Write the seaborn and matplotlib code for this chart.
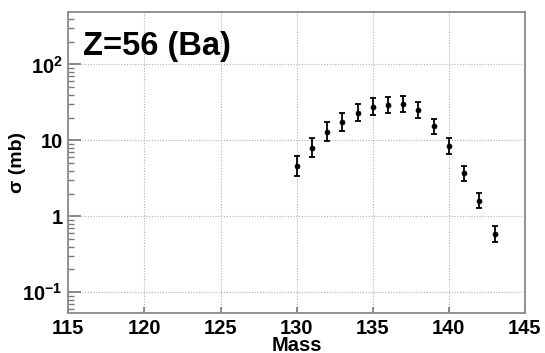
import matplotlib
matplotlib.use('Agg')
import matplotlib.pyplot as plt
import seaborn as sns
import numpy as np
import pandas as pd
from matplotlib.ticker import FixedLocator, FixedFormatter, NullFormatter, NullLocator

# ---- data ----
mass = [130, 131, 132, 133, 134, 135, 136, 137, 138, 139, 140, 141, 142, 143]
sigma = [4.6, 8.0, 13.1, 17.3, 23.2, 27.9, 29.3, 29.9, 25.4, 15.4, 8.4, 3.7, 1.61, 0.59]
sigma_low = [3.44, 6.0, 9.9, 13.2, 17.9, 21.7, 22.8, 23.5, 20.0, 12.2, 6.6, 2.93, 1.27, 0.459]
sigma_high = [6.18, 10.8, 17.3, 22.8, 30.2, 35.8, 37.7, 38.1, 32.2, 19.4, 10.6, 4.67, 2.05, 0.755]
xticks = [115, 120, 125, 130, 135, 140, 145]
yticks = [0.1, 1, 10, 100]
ytick_labels = [r'$\mathbf{10^{-1}}$', '1', '10', r'$\mathbf{10^{2}}$']
title = 'Z=56 (Ba)'

sns.set_theme(style='white')
plt.rcParams['font.family'] = ['Liberation Sans', 'DejaVu Sans']
plt.rcParams['font.weight'] = 'bold'
plt.rcParams['mathtext.fontset'] = 'custom'
plt.rcParams['mathtext.bf'] = 'Liberation Sans:bold'
plt.rcParams['mathtext.rm'] = 'Liberation Sans:bold'
plt.rcParams['axes.unicode_minus'] = False
plt.rcParams['text.color'] = 'black'
plt.rcParams['axes.labelcolor'] = 'black'
plt.rcParams['xtick.color'] = 'black'
plt.rcParams['ytick.color'] = 'black'

df = pd.DataFrame({'mass': mass, 'sigma': sigma})
err_lo = np.array(sigma) - np.array(sigma_low)
err_hi = np.array(sigma_high) - np.array(sigma)

fig = plt.figure(figsize=(5.45, 3.53), dpi=100)
ax = fig.add_axes([0.1253, 0.1125, 0.8380, 0.8527])

ax.set_yscale('log')
ax.set_xlim(115, 145)
ax.set_ylim(0.053, 486)

ax.errorbar(mass, sigma, yerr=[err_lo, err_hi], fmt='none', ecolor='black',
            elinewidth=1.3, capsize=2.2, capthick=1.3, zorder=3)
sns.scatterplot(data=df, x='mass', y='sigma', color='black', s=13,
                edgecolor='black', linewidth=0.5, ax=ax, zorder=4, legend=False)

ax.xaxis.set_major_locator(FixedLocator(xticks))
ax.xaxis.set_minor_locator(NullLocator())
ax.yaxis.set_major_locator(FixedLocator(yticks))
ax.yaxis.set_major_formatter(FixedFormatter(ytick_labels))
minor = [m * 10.0 ** e for e in range(-2, 3) for m in range(2, 10)]
ax.yaxis.set_minor_locator(FixedLocator(minor))
ax.yaxis.set_minor_formatter(NullFormatter())

ax.grid(True, which='major', linestyle=(0, (1, 1.5)), color='#b0b0b0', linewidth=0.8)
ax.set_axisbelow(True)

for s in ax.spines.values():
    s.set_color('#8a8a8a')
    s.set_linewidth(1.3)

ax.tick_params(axis='x', which='major', direction='in', length=4, width=1.2,
               color='#777777', labelcolor='black', labelsize=14.5, pad=4,
               bottom=True, top=False)
ax.tick_params(axis='y', which='major', direction='in', length=9, width=1.2,
               color='#777777', labelcolor='black', labelsize=14.5, pad=4,
               left=True, right=False)
ax.tick_params(axis='y', which='minor', direction='in', length=4.5, width=1.0,
               color='#777777', left=True, right=False)
for lab in ax.get_xticklabels() + ax.get_yticklabels():
    lab.set_fontweight('bold')

ax.set_xlabel('Mass', fontsize=14.5, fontweight='bold', labelpad=-1, color='black')
ax.set_ylabel('σ (mb)', fontsize=14, fontweight='bold', color='black')
ax.yaxis.set_label_coords(-0.093, 0.5)

ax.text(0.032, 0.858, title, transform=ax.transAxes, fontsize=23.5,
        fontweight='bold', ha='left', va='baseline', color='black')

fig.savefig('out.png', dpi=100)
